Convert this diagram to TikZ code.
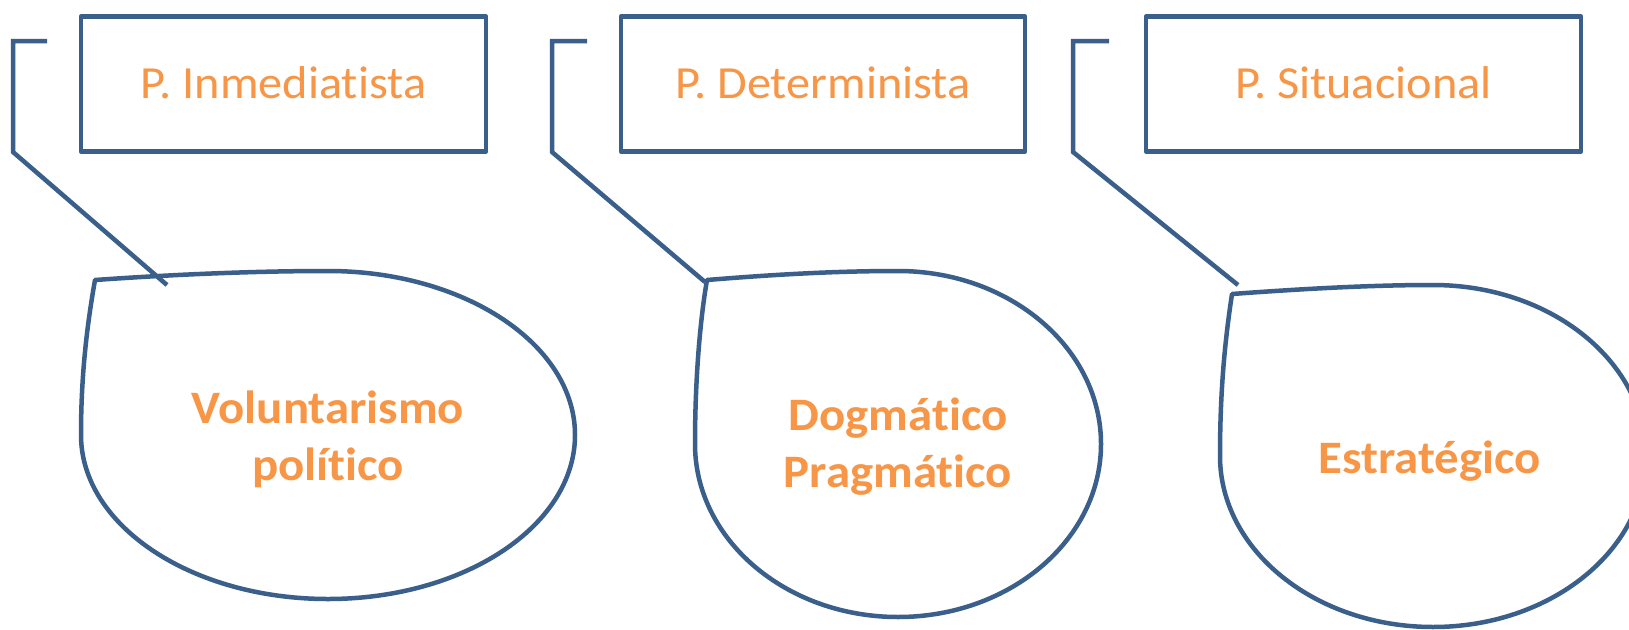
\documentclass[tikz,border=0pt]{standalone}
\usepackage{fontspec}
\setmainfont{Carlito}[Ligatures=NoCommon, FakeStretch=1.05]
\usepackage{tikz}
\definecolor{frameblue}{HTML}{3A5F8B}
\definecolor{labelorange}{HTML}{F79646}
\tikzset{
  titlebox/.style={
    rectangle, draw=frameblue, line width=4.5pt, line join=round,
    minimum height=135pt, inner sep=0pt, text=labelorange,
    font=\fontsize{46}{56}\selectfont, text height=29pt, text depth=0pt
  },
  leader/.style={draw=frameblue, line width=4.5pt},
  bubble/.style={draw=frameblue, line width=4.5pt, line join=round},
  bubbletext/.style={
    text=labelorange, font=\fontsize{46.5}{57}\selectfont\bfseries,
    align=center, inner sep=0pt
  },
}

\begin{document}
\begin{tikzpicture}[x=1pt, y=-1pt]
  \path[use as bounding box, fill=white] (0,0) rectangle (1629,629);

  % Title boxes
  \node[titlebox, minimum width=405pt] (inmed) at (283.5,84) {P. Inmediatista};
  \node[titlebox, minimum width=404pt] (deter) at (823,84) {P. Determinista};
  \node[titlebox, minimum width=435pt] (situa) at (1363.5,84) {P. Situacional};

  % Bubbles
  \draw[bubble] (95,280) .. controls (180,274) and (260,271) .. (328,271)
    arc[start angle=-90, end angle=180, x radius=247, y radius=164]
    .. controls (81,370) and (88,320) .. cycle;
  \draw[bubble] (707,280) .. controls (780,274) and (840,271) .. (898,271)
    arc[start angle=-90, end angle=180, x radius=203, y radius=173]
    .. controls (695,380) and (700,320) .. cycle;
  \draw[bubble] (1232,294) .. controls (1300,289) and (1370,285) .. (1433,285)
    arc[start angle=-90, end angle=180, x radius=213, y radius=171]
    .. controls (1220,390) and (1225,340) .. cycle;

  \node[bubbletext] (volun) at (328,439) {Voluntarismo\\político};
  \node[bubbletext] (dogma) at (898,447) {Dogmático\\Pragmático};
  \node[bubbletext, anchor=base] (estra) at (1430,473) {Estratégico};

  % Leaders
  \coordinate (hook1) at (47,41);
  \coordinate (bend1) at (13,152);
  \coordinate (tip1) at (167,285);
  \coordinate (hook2) at (587,41);
  \coordinate (bend2) at (552,152);
  \coordinate (tip2) at (705,282);
  \coordinate (hook3) at (1109,41);
  \coordinate (bend3) at (1073,152);
  \coordinate (tip3) at (1238,285);

  \draw[leader] (hook1) -| (bend1) -- (tip1);
  \draw[leader] (hook2) -| (bend2) -- (tip2);
  \draw[leader] (hook3) -| (bend3) -- (tip3);
\end{tikzpicture}
\end{document}
